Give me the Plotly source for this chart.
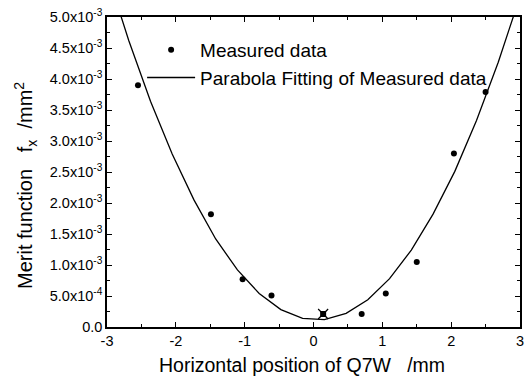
import plotly.graph_objects as go

meas_x = [-2.55, -1.49, -1.03, -0.61, 0.70, 1.05, 1.50, 2.04, 2.50]
meas_y = [3.90e-3, 1.82e-3, 0.77e-3, 0.51e-3, 0.21e-3, 0.54e-3, 1.05e-3, 2.80e-3, 3.79e-3]

# Minimum point (square + cross)
min_x = [0.14]
min_y = [0.21e-3]

# Parabola fitting line vertices
fit_x = [-3.0, -2.684, -2.368, -2.053, -1.737, -1.421, -1.105, -0.789, -0.474, -0.158,
         0.158, 0.474, 0.789, 1.105, 1.421, 1.737, 2.053, 2.368, 2.684, 3.0]
fit_y = [5.72e-3, 4.62e-3, 3.64e-3, 2.79e-3, 2.05e-3, 1.42e-3, 0.92e-3, 0.54e-3, 0.28e-3, 0.14e-3,
         0.12e-3, 0.22e-3, 0.44e-3, 0.78e-3, 1.24e-3, 1.82e-3, 2.51e-3, 3.33e-3, 4.27e-3, 5.33e-3]

x_tickvals = [-3, -2, -1, 0, 1, 2, 3]
x_ticktext = ["-3", "-2", "-1", "0", "1", "2", "3"]
y_tickvals = [0, 0.5e-3, 1.0e-3, 1.5e-3, 2.0e-3, 2.5e-3, 3.0e-3, 3.5e-3, 4.0e-3, 4.5e-3, 5.0e-3]
y_ticktext = ["0.0", "5.0x10<sup>-4</sup>", "1.0x10<sup>-3</sup>", "1.5x10<sup>-3</sup>",
              "2.0x10<sup>-3</sup>", "2.5x10<sup>-3</sup>", "3.0x10<sup>-3</sup>",
              "3.5x10<sup>-3</sup>", "4.0x10<sup>-3</sup>", "4.5x10<sup>-3</sup>",
              "5.0x10<sup>-3</sup>"]

x_title = "Horizontal position of Q7W&nbsp;&nbsp;&nbsp;/mm"
y_title = "Merit function&nbsp;&nbsp;&nbsp;f<sub>x</sub>&nbsp;&nbsp;/mm<sup>2</sup>"

FONT = "Liberation Sans, Arial, sans-serif"

fig = go.Figure()
fig.add_trace(go.Scatter(x=meas_x, y=meas_y, mode="markers", name="Measured data",
                         marker=dict(color="black", size=6, symbol="circle"),
                         legendgroup="a"))
fig.add_trace(go.Scatter(x=fit_x, y=fit_y, mode="lines",
                         name="Parabola Fitting of Measured data",
                         line=dict(color="black", width=1.3), legendgroup="b"))
fig.add_trace(go.Scatter(x=min_x, y=min_y, mode="markers", showlegend=False,
                         marker=dict(color="black", size=10, symbol="x-thin",
                                     line=dict(color="black", width=1.2))))
fig.add_trace(go.Scatter(x=min_x, y=min_y, mode="markers", showlegend=False,
                         marker=dict(color="black", size=6, symbol="square")))

axis_common = dict(showline=True, linecolor="black", linewidth=1.5, mirror="ticks",
                   ticks="inside", ticklen=5, tickwidth=1, tickcolor="black",
                   showgrid=False, zeroline=False,
                   tickfont=dict(family=FONT, size=14.5, color="black"))

fig.update_xaxes(range=[-3, 3], tickvals=x_tickvals, ticktext=x_ticktext,
                 minor=dict(ticks="inside", ticklen=3, dtick=0.5, tickcolor="black"),
                 **axis_common)
fig.update_yaxes(range=[0, 5.0e-3], tickvals=y_tickvals, ticktext=y_ticktext,
                 minor=dict(ticks="inside", ticklen=3, dtick=0.25e-3, tickcolor="black"),
                 **axis_common)

fig.add_annotation(text=x_title, xref="paper", yref="paper", x=0.4724, y=0,
                   xanchor="center", yanchor="middle", yshift=-38, showarrow=False,
                   font=dict(family=FONT, size=19.5, color="black"))
fig.add_annotation(text=y_title, xref="paper", yref="paper", x=0, y=0.455,
                   xanchor="center", yanchor="middle", xshift=-81, showarrow=False,
                   textangle=-90, font=dict(family=FONT, size=20, color="black"))

fig.update_layout(
    width=531, height=377,
    margin=dict(l=107, r=7, t=15, b=50),
    plot_bgcolor="white", paper_bgcolor="white",
    font=dict(family=FONT, color="black"),
    legend=dict(x=0.085, y=0.955, xanchor="left", yanchor="top",
                bgcolor="rgba(0,0,0,0)", font=dict(family=FONT, size=19, color="black"),
                traceorder="grouped", tracegroupgap=0, itemwidth=48),
)

fig.write_html("out.html")
